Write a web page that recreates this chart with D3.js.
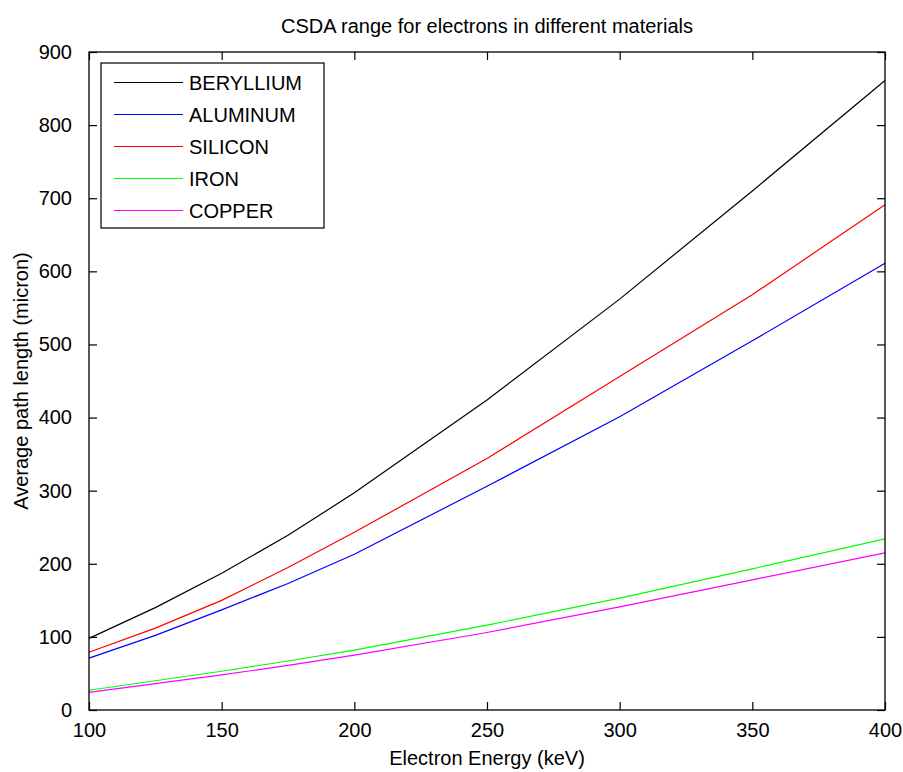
<!DOCTYPE html>
<html>
<head>
<meta charset="utf-8">
<script src="https://cdn.jsdelivr.net/npm/d3@7"></script>
<style>
  html, body { margin: 0; padding: 0; background: #fff; }
  svg text { font-family: "Liberation Sans", Arial, sans-serif; fill: #000; }
</style>
</head>
<body>
<svg id="chart" width="903" height="772"></svg>
<script>
const energies = [100, 125, 150, 175, 200, 250, 300, 350, 400];
const beryllium = [98, 140, 187, 239, 297, 424, 562, 710, 861];
const aluminum  = [71, 102, 137, 173, 213, 306, 401, 505, 611];
const silicon   = [79, 112, 150, 195, 243, 344, 456, 568, 691];
const iron      = [27, 40, 53, 67, 82, 116, 153, 193, 234];
const copper    = [24, 36, 48, 61, 75, 106, 141, 178, 215];
const seriesNames = ["BERYLLIUM", "ALUMINUM", "SILICON", "IRON", "COPPER"];
const seriesColors = ["#000000", "#0000ff", "#ff0000", "#00ff00", "#ff00ff"];
const xTicks = [100, 150, 200, 250, 300, 350, 400];
const yTicks = [0, 100, 200, 300, 400, 500, 600, 700, 800, 900];
const titleText = "CSDA range for electrons in different materials";
const xLabel = "Electron Energy (keV)";
const yLabel = "Average path length (micron)";

const seriesValues = [beryllium, aluminum, silicon, iron, copper];

const svg = d3.select("#chart");
const m = { left: 89, right: 885, top: 52, bottom: 710 };
const fs = 20;

const x = d3.scaleLinear().domain([100, 400]).range([m.left, m.right]);
const y = d3.scaleLinear().domain([0, 900]).range([m.bottom, m.top]);

const tl = 8;
const gB = svg.append("g").attr("transform", `translate(0,${m.bottom})`)
  .call(d3.axisBottom(x).tickValues(xTicks).tickSizeInner(-tl).tickSizeOuter(0).tickPadding(13));
const gT = svg.append("g").attr("transform", `translate(0,${m.top})`)
  .call(d3.axisTop(x).tickValues(xTicks).tickSizeInner(-tl).tickSizeOuter(0).tickFormat(""));
const gL = svg.append("g").attr("transform", `translate(${m.left},0)`)
  .call(d3.axisLeft(y).tickValues(yTicks).tickSizeInner(-tl).tickSizeOuter(0).tickPadding(17));
const gR = svg.append("g").attr("transform", `translate(${m.right},0)`)
  .call(d3.axisRight(y).tickValues(yTicks).tickSizeInner(-tl).tickSizeOuter(0).tickFormat(""));

[gB, gT, gL, gR].forEach(g => {
  g.select(".domain").remove();
  g.selectAll(".tick line").attr("stroke", "#000").attr("stroke-width", 1.2);
  g.selectAll(".tick text").attr("font-size", fs).attr("font-family", "Liberation Sans, Arial, sans-serif").attr("fill", "#000");
});

const line = d3.line().x((d, i) => x(energies[i])).y(d => y(d));
seriesValues.forEach((vals, k) => {
  svg.append("path")
    .attr("d", line(vals))
    .attr("fill", "none")
    .attr("stroke", seriesColors[k])
    .attr("stroke-width", 1.2);
});

svg.append("rect")
  .attr("x", m.left).attr("y", m.top)
  .attr("width", m.right - m.left).attr("height", m.bottom - m.top)
  .attr("fill", "none").attr("stroke", "#000").attr("stroke-width", 1.3);

svg.append("text").attr("x", (m.left + m.right) / 2).attr("y", 33)
  .attr("text-anchor", "middle").attr("font-size", fs).text(titleText);
svg.append("text").attr("x", (m.left + m.right) / 2).attr("y", 765)
  .attr("text-anchor", "middle").attr("font-size", fs).text(xLabel);
svg.append("text")
  .attr("transform", `translate(28,${(m.top + m.bottom) / 2}) rotate(-90)`)
  .attr("text-anchor", "middle").attr("font-size", fs).text(yLabel);

const lg = svg.append("g");
lg.append("rect").attr("x", 101).attr("y", 63).attr("width", 223).attr("height", 165)
  .attr("fill", "#fff").attr("stroke", "#000").attr("stroke-width", 1.2);
seriesNames.forEach((name, k) => {
  const ly = 82.5 + k * 32;
  lg.append("line").attr("x1", 114).attr("x2", 183).attr("y1", ly).attr("y2", ly)
    .attr("stroke", seriesColors[k]).attr("stroke-width", 1.2);
  lg.append("text").attr("x", 189).attr("y", ly + 7.5).attr("font-size", fs).text(name);
});
</script>
</body>
</html>
